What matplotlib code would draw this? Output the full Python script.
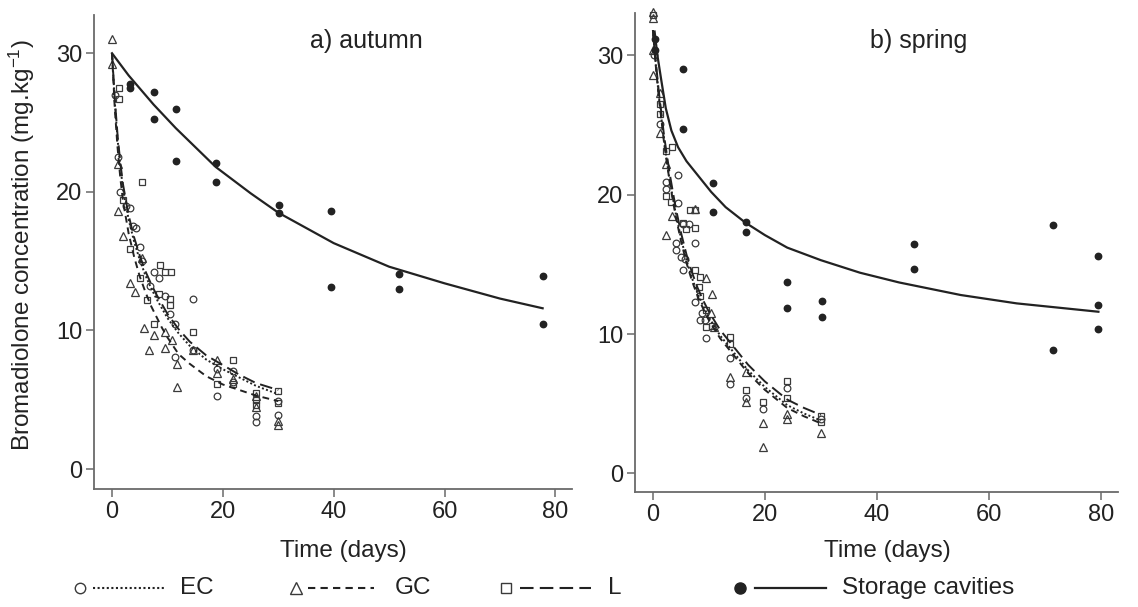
import matplotlib
matplotlib.use('Agg')
import matplotlib.pyplot as plt
from matplotlib.lines import Line2D

plt.rcParams['font.family'] = ['Liberation Sans', 'DejaVu Sans']
plt.rcParams['mathtext.default'] = 'regular'

# ---------------- data: a) autumn ----------------
a_ec_x = [0.5, 1.0, 1.5, 2.5, 3.2, 4.3, 3.8, 5.0, 5.5, 6.9, 7.5, 8.5, 9.5, 10.5, 11.4, 11.4,
          14.6, 14.7, 18.9, 18.9, 21.9, 21.9, 26, 26, 30, 30]
a_ec_y = [27.0, 22.5, 20.0, 19.0, 18.8, 17.4, 17.5, 16.0, 15.0, 13.2, 14.2, 13.8, 12.5, 11.2, 10.5, 8.1,
          12.3, 8.6, 5.3, 7.2, 7.1, 6.3, 3.8, 3.4, 3.9, 4.9]
a_gc_x = [0, 0, 1.1, 1.1, 2.0, 3.2, 4.2, 5.4, 5.7, 6.6, 7.5, 9.6, 9.6, 10.8, 11.7, 11.7,
          14.7, 18.9, 18.9, 21.9, 26, 26, 30, 30]
a_gc_y = [31.0, 29.2, 22.0, 18.6, 16.8, 13.4, 12.8, 15.2, 10.2, 8.6, 9.7, 9.9, 8.7, 9.3, 7.6, 5.9,
          8.6, 7.9, 6.9, 6.5, 5.3, 4.5, 3.5, 3.2]
a_l_x = [1.3, 1.3, 2.0, 3.2, 5.4, 5.0, 6.3, 7.5, 8.4, 8.7, 9.6, 10.6, 10.5, 10.5, 14.7,
         18.9, 21.9, 21.9, 26, 26, 26, 30, 30]
a_l_y = [27.5, 26.7, 19.4, 15.9, 20.7, 13.8, 12.2, 10.5, 12.6, 14.7, 14.2, 14.2, 12.3, 11.8, 9.9,
         6.1, 7.9, 6.1, 5.5, 5.0, 4.6, 5.6, 4.8]
a_sc_x = [3.3, 3.3, 7.6, 7.6, 11.5, 11.5, 18.7, 18.7, 30.1, 30.1, 39.5, 39.5, 51.8, 51.8, 77.7, 77.7]
a_sc_y = [27.8, 27.5, 27.2, 25.25, 26.0, 22.2, 22.1, 20.7, 19.05, 18.5, 18.6, 13.15, 14.1, 13.0, 13.9, 10.5]

# fitted curves
a_fit_days = [0, 0.5, 1, 1.5, 2, 3, 4, 5, 6, 7, 8, 9, 10, 12, 14, 17, 20, 23, 26, 30]
a_fit_ec = [30, 26.5, 23.8, 21.8, 20.2, 18.0, 16.4, 15.1, 14.0, 13.1, 12.3, 11.6, 10.9, 9.8, 8.9, 7.9, 7.2, 6.6, 6.0, 5.4]
a_fit_gc = [30, 26.0, 23.2, 21.0, 19.3, 17.0, 15.3, 13.9, 12.8, 11.8, 11.0, 10.2, 9.5, 8.3, 7.6, 6.7, 6.1, 5.7, 5.3, 4.9]
a_fit_l = [30, 26.7, 24.1, 22.1, 20.5, 18.3, 16.7, 15.4, 14.3, 13.4, 12.6, 11.9, 11.2, 10.1, 9.2, 8.2, 7.5, 6.8, 6.2, 5.7]
a_fit_sc_days = [0, 3, 7.5, 11.5, 18.7, 25, 30, 40, 50, 60, 70, 77.7]
a_fit_sc = [30.0, 28.4, 26.3, 24.6, 21.8, 19.9, 18.5, 16.3, 14.6, 13.4, 12.3, 11.6]

# ---------------- data: b) spring ----------------
b_ec_x = [0.2, 1.2, 2.3, 2.3, 4.4, 4.5, 6.4, 5.4, 7.5, 4.2, 4.2, 5.1, 5.7, 5.4, 7.5, 8.7, 9.3, 8.4,
          9.5, 13.7, 13.7, 16.7, 19.7, 24.0, 30.1]
b_ec_y = [30.0, 25.1, 20.9, 20.4, 21.4, 19.4, 17.9, 17.9, 16.5, 16.5, 16.0, 15.5, 15.4, 14.6, 12.3, 11.5, 11.0, 11.0,
          9.7, 8.25, 6.45, 5.4, 4.6, 6.1, 3.9]
b_gc_x = [0.1, 0.1, 0.0, 0.0, 1.2, 1.2, 2.3, 3.5, 2.4, 7.6, 9.5, 10.6, 10.4, 11.0, 13.7, 16.7, 16.7,
          19.7, 19.7, 24.0, 24.0, 30.1]
b_gc_y = [33.1, 32.7, 30.4, 28.6, 27.3, 24.4, 22.2, 18.5, 17.1, 19.0, 14.0, 12.9, 11.5, 10.5, 6.9, 7.3, 5.1,
          3.6, 1.9, 4.3, 3.9, 2.9]
b_l_x = [0.1, 1.2, 1.2, 3.5, 2.4, 2.4, 3.2, 6.6, 7.6, 5.4, 7.6, 6.0, 7.5, 8.4, 8.2, 8.4, 9.4, 9.5, 10.6,
         13.7, 13.7, 16.7, 19.7, 24.0, 24.0, 30.1, 30.1]
b_l_y = [32.9, 26.5, 25.8, 23.4, 23.1, 19.9, 19.5, 18.9, 18.9, 18.0, 17.6, 17.5, 14.6, 14.1, 13.4, 12.7, 11.7, 10.5, 10.6,
         9.8, 9.3, 6.0, 5.1, 6.6, 5.4, 4.1, 3.7]
b_sc_x = [0.3, 0.3, 5.4, 5.4, 10.7, 10.7, 16.7, 16.7, 23.9, 23.9, 30.2, 30.2, 46.6, 46.6, 71.4, 71.4, 79.5, 79.5, 79.5]
b_sc_y = [31.2, 30.4, 29.0, 24.7, 20.85, 18.75, 18.05, 17.3, 13.75, 11.9, 12.4, 11.2, 16.45, 14.7, 17.85, 8.85, 15.6, 12.1, 10.35]

b_fit_days = [0, 0.5, 1, 2, 3, 4, 5, 6, 7, 8, 9, 10, 12, 14, 17, 20, 24, 27, 30]
b_fit_l = [31.8, 29.6, 27.6, 24.2, 21.5, 19.2, 17.3, 15.7, 14.4, 13.3, 12.4, 11.6, 10.3, 9.3, 7.8, 6.6, 5.3, 4.7, 4.2]
b_fit_gc = [31.8, 29.3, 27.2, 23.7, 20.9, 18.6, 16.7, 15.1, 13.8, 12.7, 11.8, 11.0, 9.7, 8.7, 7.2, 6.0, 4.7, 4.1, 3.6]
b_fit_ec = [31.8, 29.4, 27.3, 23.8, 21.0, 18.8, 16.9, 15.3, 14.0, 12.9, 12.0, 11.2, 9.9, 8.9, 7.4, 6.2, 4.9, 4.3, 3.8]
b_fit_sc_days = [0.3, 0.8, 1.5, 2.3, 3.3, 4.5, 6, 8, 10.4, 13, 16.5, 20, 24, 30, 37, 44, 55, 65, 79.6]
b_fit_sc = [31.7, 30.0, 28.2, 26.2, 24.6, 23.4, 22.4, 21.4, 20.2, 19.1, 18.0, 17.1, 16.2, 15.3, 14.4, 13.7, 12.8, 12.2, 11.6]

x_ticks = [0, 20, 40, 60, 80]
y_ticks = [0, 10, 20, 30]

# ---------------- styles ----------------
EDGE = '#3a3a3a'
LINE = '#222222'
SPINE = '#6a6a6a'
ls_ec = (0, (1.0, 1.2))
ls_gc = (0, (3.5, 2.5))
ls_l = (0, (6.5, 3.0))

fig = plt.figure(figsize=(11.38, 6.07), dpi=100)
ax1 = fig.add_axes([94 / 1138, 1 - 489 / 607, 478 / 1138, 474 / 607])
ax2 = fig.add_axes([635 / 1138, 1 - 492 / 607, 483 / 1138, 479 / 607])


def draw(ax, ec, gc, l, sc, fit_days, fit_ec, fit_gc, fit_l, sc_days, fit_sc, xlim, ylim):
    mk = dict(linestyle='none', mfc='none', mec=EDGE, mew=0.9, clip_on=False, zorder=3)
    ax.plot(ec[0], ec[1], marker='o', ms=4.8, **mk)
    ax.plot(gc[0], gc[1], marker='^', ms=6.2, **mk)
    ax.plot(l[0], l[1], marker='s', ms=5.0, **mk)
    ax.plot(sc[0], sc[1], marker='o', ms=4.6, linestyle='none', color='#222222',
            clip_on=False, zorder=3)
    ax.plot(fit_days, fit_ec, color=LINE, lw=1.4, linestyle=ls_ec, zorder=4)
    ax.plot(fit_days, fit_gc, color=LINE, lw=1.4, linestyle=ls_gc, zorder=4)
    ax.plot(fit_days, fit_l, color=LINE, lw=1.4, linestyle=ls_l, zorder=4)
    ax.plot(sc_days, fit_sc, color=LINE, lw=1.6, linestyle='-', zorder=4)
    ax.set_xlim(*xlim)
    ax.set_ylim(*ylim)
    ax.set_xticks(x_ticks)
    ax.set_yticks(y_ticks)
    for s in ['top', 'right']:
        ax.spines[s].set_visible(False)
    for s in ['left', 'bottom']:
        ax.spines[s].set_color(SPINE)
        ax.spines[s].set_linewidth(1.3)
    ax.tick_params(axis='both', direction='out', length=5.5, width=1.1, color=SPINE,
                   labelsize=17, labelcolor='#222222', pad=3)
    ax.set_facecolor('none')


draw(ax1, (a_ec_x, a_ec_y), (a_gc_x, a_gc_y), (a_l_x, a_l_y), (a_sc_x, a_sc_y),
     a_fit_days, a_fit_ec, a_fit_gc, a_fit_l, a_fit_sc_days, a_fit_sc,
     (-3.25, 83.0), (-1.44, 32.76))
draw(ax2, (b_ec_x, b_ec_y), (b_gc_x, b_gc_y), (b_l_x, b_l_y), (b_sc_x, b_sc_y),
     b_fit_days, b_fit_ec, b_fit_gc, b_fit_l, b_fit_sc_days, b_fit_sc,
     (-3.2, 83.1), (-1.33, 33.03))

TXT = '#222222'
fig.text(310 / 1138, 1 - 41 / 607, 'a) autumn', ha='left', va='center', fontsize=18, color=TXT)
fig.text(870 / 1138, 1 - 41 / 607, 'b) spring', ha='left', va='center', fontsize=18, color=TXT)
fig.text(22 / 1138, 1 - 245 / 607, 'Bromadiolone concentration (mg.kg$^{-1}$)', rotation=90,
         ha='center', va='center', fontsize=17.5, color=TXT)
fig.text(343 / 1138, 1 - 551 / 607, 'Time (days)', ha='center', va='center', fontsize=17.5, color=TXT)
fig.text(887 / 1138, 1 - 551 / 607, 'Time (days)', ha='center', va='center', fontsize=17.5, color=TXT)

# ---------------- legend (drawn in figure pixels) ----------------
ly = 1 - 588 / 607
W, H = 1138.0, 607.0
leg = [
    ('o', 'none', ls_ec, 80, 93, 165, 180, 'EC', 7.5),
    ('^', 'none', ls_gc, 296, 308, 374, 395, 'GC', 8.5),
    ('s', 'none', ls_l, 506, 520, 591, 608, 'L', 7.5),
    ('o', '#222222', '-', 740, 755, 826, 842, 'Storage cavities', 8.0),
]
for m, fc, ls, mx, x0, x1, tx, label, ms in leg:
    fig.add_artist(Line2D([x0 / W, x1 / W], [ly, ly], transform=fig.transFigure,
                          color=LINE, lw=1.6 if ls == '-' else 1.5, linestyle=ls))
    fig.add_artist(Line2D([mx / W], [ly], transform=fig.transFigure, marker=m, ms=ms,
                          mfc=fc, mec=EDGE if fc == 'none' else '#222222', mew=1.0,
                          linestyle='none'))
    fig.text(tx / W, ly, label, ha='left', va='center', fontsize=17.5, color=TXT)

fig.savefig('out.png', dpi=100, facecolor='white')
